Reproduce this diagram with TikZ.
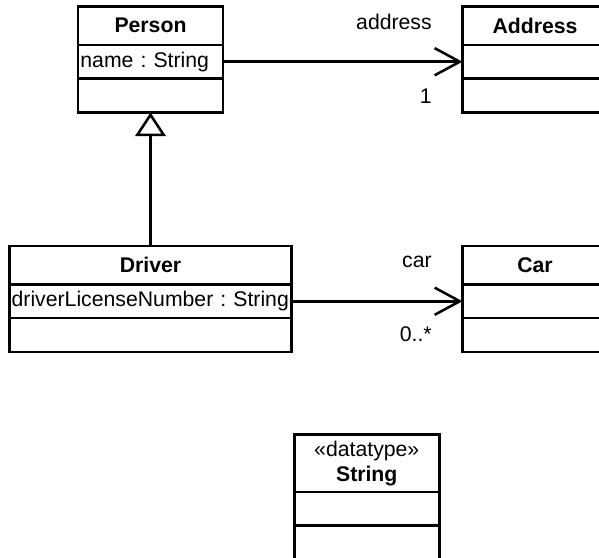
\documentclass[tikz,border=0pt]{standalone}
\usepackage{fontspec}
\setmainfont{Liberation Sans}
\usetikzlibrary{positioning,arrows.meta}
\newcommand{\umlsize}{\fontsize{15.1pt}{18pt}\selectfont\frenchspacing}

\begin{document}
\begin{tikzpicture}[
  box/.style={draw, line width=1.8pt, outer sep=0pt, inner xsep=0.06cm, inner ysep=0pt,
    text width=3.505cm, align=center, font=\umlsize},
  head/.style={box, minimum height=0.9625cm, font=\umlsize\bfseries},
  attr/.style={box, minimum height=0.8375cm, align=left},
  ops/.style={box, minimum height=0.85cm},
  role/.style={anchor=east, inner sep=0pt, font=\umlsize},
  assoc/.style={line width=1.8pt, -{Straight Barb[length=0.63cm, width=0.68cm]}},
  inherit/.style={line width=1.8pt, -{Triangle[open, length=0.59cm, width=0.76cm]}}
]
%\draw[step=0.5cm,gray,very thin] (0,0) grid (15,14);
\useasboundingbox (0,0) rectangle (14.975,13.95);

% Person
\node[head, anchor=north] (person) at (3.7625,13.7875) {Person};
\node[attr, below=0pt of person] (person-attr) {name : String};
\node[ops, below=0pt of person-attr] (person-ops) {};

% Address
\node[head, anchor=north] (address) at (13.375,13.7875) {Address};
\node[attr, below=0pt of address] (address-attr) {};
\node[ops, below=0pt of address-attr] (address-ops) {};

% Driver
\node[head, anchor=north, text width=6.9425cm] (driver) at (3.7625,7.8) {Driver};
\node[attr, below=0pt of driver, text width=6.9425cm] (driver-attr) {driverLicenseNumber : String};
\node[ops, below=0pt of driver-attr, text width=6.9425cm] (driver-ops) {};

% Car
\node[head, anchor=north] (car) at (13.375,7.8) {Car};
\node[attr, below=0pt of car] (car-attr) {};
\node[ops, below=0pt of car-attr] (car-ops) {};

% String
\node[head, anchor=north, minimum height=1.4375cm] (string) at (9.169,3.0875) {\textmd{«datatype»}\\String};
\node[attr, below=0pt of string] (string-attr) {};
\node[ops, below=0pt of string-attr] (string-ops) {};

\draw[inherit] (driver) -- (person-ops);
\draw[assoc] (person-attr) -- (address-attr);
\draw[assoc] (driver-attr) -- (car-attr);

\node[role] (address-role) at (10.8,13.4) {address};
\node[role] (address-mult) at (10.8,11.55) {1};
\node[role] (car-role) at (10.8,7.4) {car};
\node[role] (car-mult) at (10.8,5.6) {0..*};
\end{tikzpicture}
\end{document}
